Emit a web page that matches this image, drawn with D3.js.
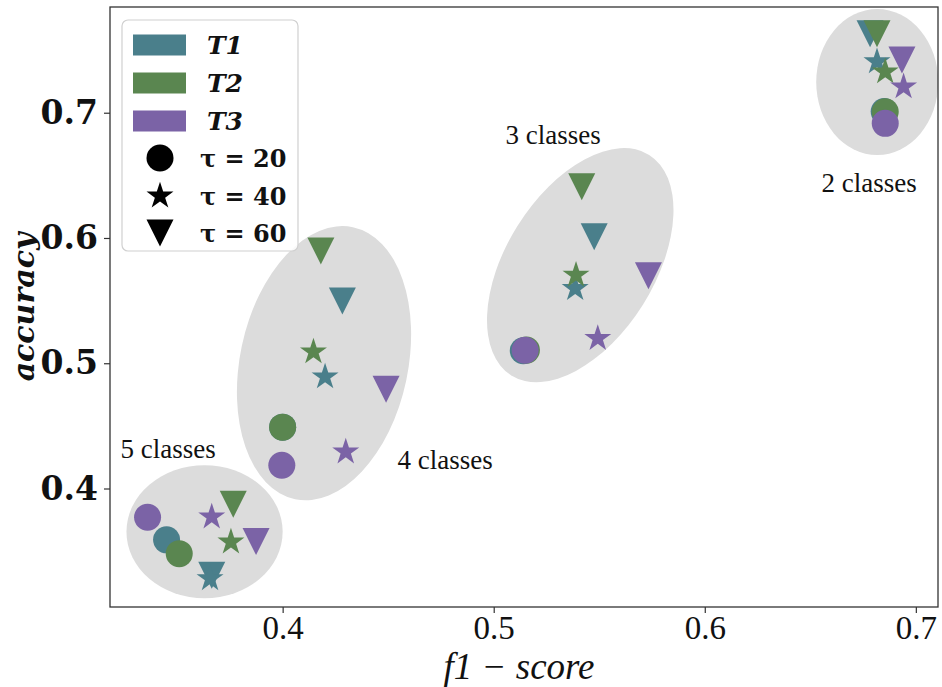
<!DOCTYPE html>
<html>
<head>
<meta charset="utf-8">
<script src="https://cdn.jsdelivr.net/npm/d3@7"></script>
<style>
  html, body { margin: 0; padding: 0; background: #fff; }
  svg { display: block; }
</style>
</head>
<body>
<div id="chart"></div>
<script>
// ---------------- data ----------------
const clusterLabels = ["5 classes", "4 classes", "3 classes", "2 classes"];
const tasks = ["T1", "T2", "T3"];
const taus = [20, 40, 60];
const xTicks = [0.4, 0.5, 0.6, 0.7];
const yTicks = [0.4, 0.5, 0.6, 0.7];

// [f1-score, accuracy] for clusters 5,4,3,2 classes
const T1_tau20 = [[0.345, 0.359], [0.400, 0.449], [0.514, 0.510], [0.685, 0.701]];
const T2_tau20 = [[0.351, 0.348], [0.400, 0.449], [0.5155, 0.5105], [0.6855, 0.7008]];
const T3_tau20 = [[0.336, 0.377], [0.3996, 0.4186], [0.5149, 0.5104], [0.6855, 0.6915]];
const T1_tau40 = [[0.3656, 0.328], [0.4201, 0.4891], [0.5386, 0.5597], [0.6816, 0.7407]];
const T2_tau40 = [[0.3755, 0.3573], [0.4146, 0.5091], [0.5390, 0.5703], [0.6855, 0.7327]];
const T3_tau40 = [[0.3664, 0.3773], [0.4299, 0.4292], [0.5493, 0.5198], [0.6942, 0.7207]];
const T1_tau60 = [[0.3664, 0.3307], [0.4283, 0.5496], [0.5476, 0.6009], [0.6783, 0.7630]];
const T2_tau60 = [[0.3766, 0.3874], [0.4181, 0.5897], [0.5417, 0.6409], [0.6816, 0.7630]];
const T3_tau60 = [[0.3874, 0.3576], [0.4490, 0.4793], [0.5733, 0.5698], [0.6934, 0.7421]];

// ellipse regions: centre (f1, acc), semi-axes (f1 units, acc units), tilt (deg)
const ellipseCx = [0.3630, 0.4196, 0.5410, 0.6817];
const ellipseCy = [0.3655, 0.5000, 0.5783, 0.7245];
const ellipseRx = [0.0370, 0.0398, 0.0351, 0.0289];
const ellipseRy = [0.0531, 0.1110, 0.1038, 0.0583];
const ellipseAngle = [0, 12, 32, 0];
// cluster label positions (f1, acc)
const labelX = [0.3457, 0.4770, 0.5282, 0.6779];
const labelY = [0.4314, 0.4226, 0.6822, 0.6438];

const colors = { T1: "#4a7f8b", T2: "#5a8650", T3: "#7b63a6" };

// ---------------- layout ----------------
const W = 942, H = 687;
const margin = { left: 110, right: 4, top: 7, bottom: 80 };
const iw = W - margin.left - margin.right;
const ih = H - margin.top - margin.bottom;

const x = d3.scaleLinear().domain([0.3182, 0.7105]).range([0, iw]);
const y = d3.scaleLinear().domain([0.3054, 0.7844]).range([ih, 0]);

const svg = d3.select("#chart").append("svg").attr("width", W).attr("height", H);
const g = svg.append("g").attr("transform", `translate(${margin.left},${margin.top})`);

svg.append("defs").append("clipPath").attr("id", "clip")
  .append("rect").attr("width", iw).attr("height", ih);

const plot = g.append("g").attr("clip-path", "url(#clip)");

// ellipses
const pxPerX = x(1) - x(0);
const pxPerY = y(0) - y(1);
plot.selectAll("ellipse.region").data(clusterLabels).join("ellipse")
  .attr("class", "region")
  .attr("cx", 0).attr("cy", 0)
  .attr("rx", (d, i) => ellipseRx[i] * pxPerX)
  .attr("ry", (d, i) => ellipseRy[i] * pxPerY)
  .attr("transform", (d, i) => `translate(${x(ellipseCx[i])},${y(ellipseCy[i])}) rotate(${ellipseAngle[i]})`)
  .attr("fill", "#dcdcdc");

// markers
const S = 27; // marker size in px
function starPath(R) {
  const r = R * 0.381966;
  const pts = [];
  for (let k = 0; k < 10; k++) {
    const a = -Math.PI / 2 + k * Math.PI / 5;
    const rad = k % 2 === 0 ? R : r;
    pts.push([rad * Math.cos(a), rad * Math.sin(a)]);
  }
  return "M" + pts.map(p => p.join(",")).join("L") + "Z";
}
function triPath(s) {
  const h = s / 2;
  return `M${-h},${-h}L${h},${-h}L0,${h}Z`;
}
function circlePath(s) {
  const r = s / 2;
  return `M${r},0A${r},${r} 0 1,1 ${-r},0A${r},${r} 0 1,1 ${r},0Z`;
}
const shapeFor = { 20: circlePath(S), 40: starPath(S / 2 * 1.05), 60: triPath(S) };

const series = [
  { task: "T1", tau: 60, pts: T1_tau60 },
  { task: "T2", tau: 60, pts: T2_tau60 },
  { task: "T3", tau: 60, pts: T3_tau60 },
  { task: "T1", tau: 40, pts: T1_tau40 },
  { task: "T2", tau: 40, pts: T2_tau40 },
  { task: "T3", tau: 40, pts: T3_tau40 },
  { task: "T1", tau: 20, pts: T1_tau20 },
  { task: "T2", tau: 20, pts: T2_tau20 },
  { task: "T3", tau: 20, pts: T3_tau20 }
];
series.forEach(s => {
  plot.append("g").selectAll("path").data(s.pts).join("path")
    .attr("d", shapeFor[s.tau])
    .attr("transform", d => `translate(${x(d[0])},${y(d[1])})`)
    .attr("fill", colors[s.task]);
});

// cluster labels
g.selectAll("text.cl").data(clusterLabels).join("text")
  .attr("class", "cl")
  .attr("x", (d, i) => x(labelX[i]))
  .attr("y", (d, i) => y(labelY[i]))
  .attr("text-anchor", "middle")
  .attr("dominant-baseline", "central")
  .attr("font-family", "Liberation Serif, serif")
  .attr("font-size", 27)
  .attr("fill", "#111")
  .text(d => d);

// frame
g.append("rect").attr("width", iw).attr("height", ih)
  .attr("fill", "none").attr("stroke", "#333").attr("stroke-width", 1.3);

// axes
const xAxis = g.append("g").attr("transform", `translate(0,${ih})`)
  .call(d3.axisBottom(x).tickValues(xTicks).tickSize(6).tickPadding(3).tickFormat(d3.format(".1f")));
xAxis.select(".domain").remove();
xAxis.selectAll("line").attr("stroke", "#333").attr("stroke-width", 1.2);
xAxis.selectAll("text").attr("font-family", "Liberation Serif, serif").attr("font-size", 33).attr("fill", "#111");

const yAxis = g.append("g")
  .call(d3.axisLeft(y).tickValues(yTicks).tickSize(6).tickPadding(6).tickFormat(d3.format(".1f")));
yAxis.select(".domain").remove();
yAxis.selectAll("line").attr("stroke", "#333").attr("stroke-width", 1.2);
yAxis.selectAll("text").attr("font-family", "DejaVu Serif, serif").attr("font-weight", "bold")
  .attr("font-size", 33).attr("fill", "#111");

// axis titles
svg.append("text")
  .attr("x", margin.left + iw / 2 - 5).attr("y", 679)
  .attr("text-anchor", "middle")
  .attr("font-family", "Liberation Serif, serif").attr("font-style", "italic")
  .attr("font-size", 37).attr("fill", "#111")
  .text("f1 \u2212 score");

svg.append("text")
  .attr("transform", `translate(23,${margin.top + ih / 2}) rotate(-90)`)
  .attr("text-anchor", "middle")
  .attr("dominant-baseline", "central")
  .attr("font-family", "DejaVu Serif, serif").attr("font-style", "italic").attr("font-weight", "bold")
  .attr("font-size", 30).attr("fill", "#111")
  .text("accuracy");

// legend
const leg = svg.append("g").attr("transform", "translate(122,20)");
leg.append("rect").attr("width", 176).attr("height", 231).attr("rx", 6)
  .attr("fill", "#fff").attr("fill-opacity", 0.85).attr("stroke", "#d0d0d0").attr("stroke-width", 1.2);
const rowY = [25, 63, 101, 138, 176, 213];
tasks.forEach((t, i) => {
  leg.append("rect").attr("x", 11).attr("y", rowY[i] - 10.5).attr("width", 53).attr("height", 21)
    .attr("fill", colors[t]);
  leg.append("text").attr("x", 85).attr("y", rowY[i]).attr("dominant-baseline", "central")
    .attr("font-family", "DejaVu Serif, serif").attr("font-style", "italic").attr("font-weight", "bold")
    .attr("font-size", 25).attr("fill", "#111")
    .text(t);
});
taus.forEach((tau, i) => {
  leg.append("path").attr("d", shapeFor[tau])
    .attr("transform", `translate(38,${rowY[3 + i]})`).attr("fill", "#000");
  leg.append("text").attr("x", 78).attr("y", rowY[3 + i]).attr("dominant-baseline", "central")
    .attr("font-family", "DejaVu Serif, serif").attr("font-weight", "bold")
    .attr("font-size", 24).attr("fill", "#111")
    .text("\u03c4 = " + tau);
});
</script>
</body>
</html>
